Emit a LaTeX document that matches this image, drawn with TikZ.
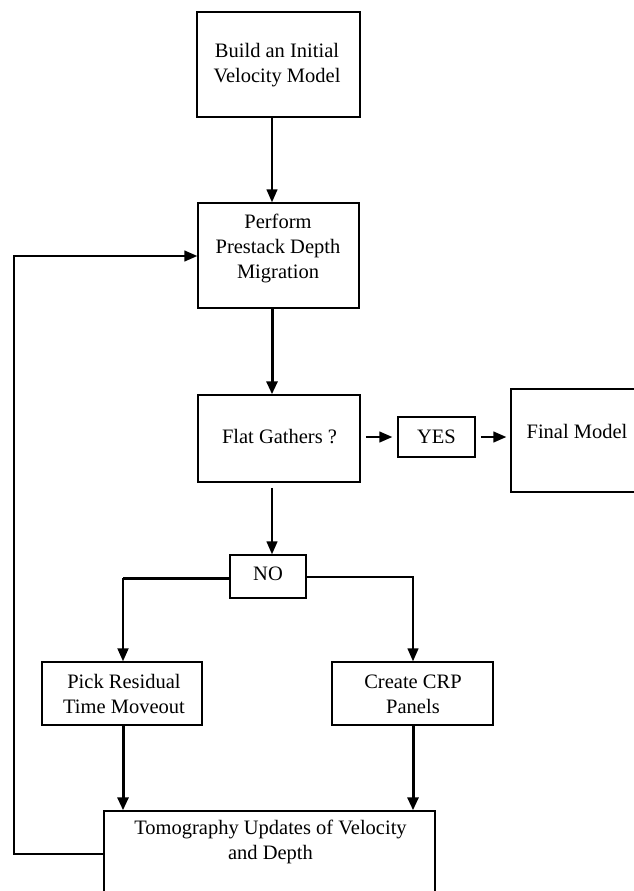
\documentclass[tikz,border=0pt]{standalone}
\usepackage{fontspec}
\setmainfont{Liberation Serif}
\usetikzlibrary{arrows.meta,calc}
\begin{document}
\begin{tikzpicture}[x=1pt,y=-1pt,
  box/.style={draw, line width=1.5pt, rectangle, inner sep=0pt},
  lbl/.style={font=\fontsize{20.5}{25}\selectfont, align=center, inner sep=0pt},
  arr/.style={line width=1.5pt, -{Triangle[length=13pt,width=11pt]}},
  tarr/.style={line width=3pt, -{Triangle[length=13pt,width=11pt]}},
  ln/.style={line width=1.5pt},
]
\useasboundingbox (0,0) rectangle (633,891);
% boxes
\node[box, minimum width=163, minimum height=105] (b1) at (278.5,64.5) {};
\node[box, minimum width=161, minimum height=105] (b2) at (278.5,255.5) {};
\node[box, minimum width=162, minimum height=87] (b3) at (279,438.5) {};
\node[box, minimum width=77, minimum height=40] (yes) at (436.5,437) {};
\node[box, minimum width=165, minimum height=103] (fin) at (593.5,440.5) {};
\node[box, minimum width=76, minimum height=43] (no) at (268,576.5) {};
\node[box, minimum width=160, minimum height=63] (pick) at (122,693.5) {};
\node[box, minimum width=161, minimum height=63] (crp) at (412.5,693.5) {};
\node[box, minimum width=331, minimum height=130] (tomo) at (269.5,876) {};
% texts
\node[lbl] (t1) at (277,65.5) {Build an Initial\\Velocity Model};
\node[lbl] (t2) at (278,248) {Perform\\Prestack Depth\\Migration};
\node[lbl] (t3) at (279.5,437) {Flat Gathers ?};
\node[lbl] (tyes) at (436.5,437) {YES};
\node[lbl] (tfin) at (577,431) {Final Model};
\node[lbl] (tno) at (268,574) {NO};
\node[lbl] (tpick) at (124,694) {Pick Residual\\Time Moveout};
\node[lbl] (tcrp) at (413,694) {Create CRP\\Panels};
\node[lbl] (ttomo) at (270.5,842) {Tomography Updates of Velocity\\and Depth};
% guide coordinates
\coordinate (cx) at (272,0);
\coordinate (lx) at (123,0);
\coordinate (rx) at (413,0);
\coordinate (fbl) at (14,854);
\coordinate (fbt) at (14,256);
\coordinate (brl) at (123,578);
\coordinate (brr) at (413,577);
% connectors
\draw[arr] (b1.south -| cx) -- (b2.north -| cx);
\draw[tarr] (b2.south -| cx) -- (b3.north -| cx);
\draw[arr, shorten <=5pt] (b3.south -| cx) -- (no.north -| cx);
\draw[arr, shorten <=5pt, shorten >=5pt] (b3.east |- yes.west) -- (yes.west);
\draw[arr, shorten <=5pt, shorten >=4pt] (yes.east) -- (fin.west |- yes.east);
\draw[line width=3pt] (no.west |- brl) -- (brl);
\draw[line width=2pt, -{Triangle[length=13pt,width=11pt]}] (brl) -- (pick.north -| brl);
\draw[arr] (no.east |- brr) -- (brr) -- (crp.north -| brr);
\draw[tarr] (pick.south -| lx) -- (tomo.north -| lx);
\draw[tarr] (crp.south -| rx) -- (tomo.north -| rx);
\draw[arr] (tomo.west |- fbl) -- (fbl) -- (fbt) -- (b2.west |- fbt);
\end{tikzpicture}
\end{document}
